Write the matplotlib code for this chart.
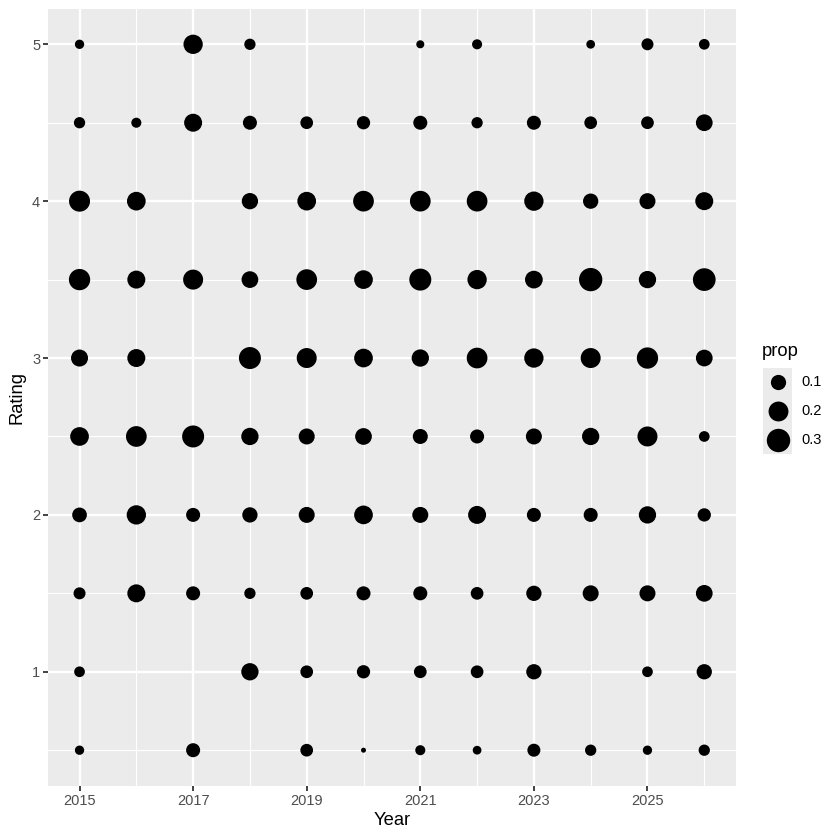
import numpy as np
import matplotlib
matplotlib.use("Agg")
import matplotlib.pyplot as plt
from matplotlib.patches import Rectangle

plt.rcParams["font.family"] = ["Liberation Sans", "DejaVu Sans"]

years = list(range(2015, 2027))
ratings = [0.5, 1, 1.5, 2, 2.5, 3, 3.5, 4, 4.5, 5]

# share of each rating within a year (None = no ratings at that level)
p2015 = [0.026, 0.038, 0.052, 0.091, 0.171, 0.134, 0.238, 0.230, 0.044, 0.026]
p2016 = [None, None, 0.155, 0.186, 0.222, 0.155, 0.155, 0.171, 0.032, None]
p2017 = [0.080, None, 0.080, 0.080, 0.258, None, 0.203, None, 0.155, 0.186]
p2018 = [None, 0.140, 0.044, 0.101, 0.140, 0.258, 0.128, 0.120, 0.080, 0.044]
p2019 = [0.061, 0.061, 0.061, 0.114, 0.114, 0.203, 0.222, 0.171, 0.061, None]
p2020 = [0.010, 0.069, 0.080, 0.171, 0.128, 0.171, 0.171, 0.222, 0.069, None]
p2021 = [0.032, 0.061, 0.080, 0.114, 0.096, 0.140, 0.258, 0.222, 0.080, 0.018]
p2022 = [0.022, 0.061, 0.061, 0.155, 0.080, 0.222, 0.186, 0.222, 0.044, 0.032]
p2023 = [0.065, 0.101, 0.101, 0.080, 0.114, 0.186, 0.149, 0.186, 0.080, None]
p2024 = [0.044, None, 0.114, 0.080, 0.140, 0.203, 0.298, 0.101, 0.061, 0.022]
p2025 = [0.026, 0.038, 0.114, 0.140, 0.203, 0.238, 0.140, 0.114, 0.061, 0.052]
p2026 = [0.044, 0.101, 0.128, 0.069, 0.038, 0.128, 0.279, 0.155, 0.128, 0.038]

legend_breaks = [0.1, 0.2, 0.3]

all_props = [p2015, p2016, p2017, p2018, p2019, p2020,
             p2021, p2022, p2023, p2024, p2025, p2026]

rows = []
for yr, col in zip(years, all_props):
    for r, p in zip(ratings, col):
        if p is not None:
            rows.append((yr, r, p))
xs = np.array([r[0] for r in rows], float)
ys = np.array([r[1] for r in rows], float)
ps = np.array([r[2] for r in rows], float)

DPI = 100
P_MIN, P_MAX = 0.01, 0.31 + 0.01


def area(p):
    # ggplot-like area scale: diameter grows with sqrt of rescaled value
    t = np.clip((np.asarray(p) - P_MIN) / (P_MAX - P_MIN), 0, 1)
    d_px = 5 + 19 * np.sqrt(t)
    return (d_px * 72 / DPI) ** 2


fig = plt.figure(figsize=(8.4, 8.4), dpi=DPI)
W = H = 840
ax = fig.add_axes([48.3 / W, 1 - 785.5 / H, (735.5 - 48.3) / W, (785.5 - 9) / H])
ax.set_facecolor("#EBEBEB")
for s in ax.spines.values():
    s.set_visible(False)

ax.set_xlim(2014.45, 2026.55)
ax.set_ylim(0.275, 5.225)
ax.set_xticks([2015, 2017, 2019, 2021, 2023, 2025])
ax.set_xticks([2016, 2018, 2020, 2022, 2024, 2026], minor=True)
ax.set_yticks([1, 2, 3, 4, 5])
ax.set_yticks([0.5, 1.5, 2.5, 3.5, 4.5], minor=True)
ax.grid(which="major", color="white", linewidth=1.7)
ax.grid(which="minor", color="white", linewidth=0.85)
ax.set_axisbelow(True)
ax.tick_params(which="major", length=3.3, width=1.3, color="#333333",
               labelcolor="#4D4D4D", labelsize=10.5, pad=2.5)
ax.tick_params(which="minor", length=0)

ax.scatter(xs, ys, s=area(ps), c="black", linewidths=0, zorder=3)

ax.set_xlabel("Year", fontsize=13.2, labelpad=3)
ax.set_ylabel("Rating", fontsize=13.2, labelpad=5)

# legend drawn by hand, ggplot style
lax = fig.add_axes([0, 0, 1, 1], facecolor="none")
lax.set_xlim(0, W)
lax.set_ylim(H, 0)
lax.axis("off")
lax.text(762, 351, "prop", fontsize=13.2, va="center", ha="left")
key_top = 368
key_h = 28.7
for i, b in enumerate(legend_breaks):
    y0 = key_top + i * key_h
    lax.add_patch(Rectangle((763, y0), 29, key_h, facecolor="#EBEBEB",
                            edgecolor="none"))
    lax.scatter([777.5], [y0 + key_h / 2], s=area(b), c="black", linewidths=0)
    lax.text(801, y0 + key_h / 2, f"{b:.1f}", fontsize=10.5, va="center",
             ha="left", color="#000000")

fig.savefig("out.png", dpi=DPI)
